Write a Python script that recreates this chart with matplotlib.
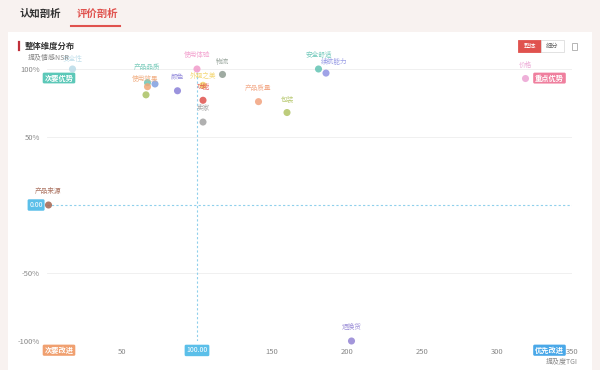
import matplotlib
matplotlib.use("Agg")
import matplotlib.pyplot as plt
from matplotlib.patches import Rectangle

plt.rcParams['font.family'] = ['Noto Sans CJK SC', 'DejaVu Sans']

# 维度数据: 提及度TGI (x), 提及情感NSR % (y)
names = ['安全性', '产品品质', '使用效果', '外观设计', '易用性', '颜色', '使用体验', '物流',
         '外观之美', '功能', '卖家', '产品质量', '包装', '安全舒适', '续航能力', '价格',
         '产品来源', '退换货']
tgi = [17, 67, 67, 66, 72, 87, 100, 117, 104, 104, 104, 141, 160, 181, 186, 319, 1, 203]
nsr = [100, 90, 87, 81, 89, 84, 100, 96, 88, 77, 61, 76, 68, 100, 97, 93, 0, -100]
colors = ['#b9dbe8', '#6cc6b4', '#f0a878', '#a9c163', '#7f9fe0', '#8a80d8', '#f29bcb', '#8e9c92',
          '#f3d366', '#e0524e', '#a3a3a3', '#f2a27e', '#b2c465', '#62c3b3', '#8f93e3', '#eba3d3',
          '#a2634f', '#9384d4']
# label offsets in points (dx, dy)
offsets = [(0, 4), (0, 8), (-2, 3), (0, 6), (0, 6), (0, 7), (0, 7), (0, 6),
           (0, 4), (0, 7), (0, 7), (0, 7), (0, 7), (0, 7), (6, 5), (0, 7),
           (0, 7), (0, 7)]
show_label = [True, True, True, False, False, True, True, True,
              True, True, True, True, True, True, True, True,
              True, True]

x_ticks = [50, 150, 200, 250, 300, 350]
y_ticks = [-100, -50, 50, 100]
y_tick_labels = ['-100%', '-50%', '50%', '100%']
ref_x = 100
ref_y = 0

fig = plt.figure(figsize=(6, 3.7), dpi=100)
fig.patch.set_facecolor('#f8f2f0')

W, H = 600, 370
def fx(px):
    return px / W
def fy(py):
    return 1 - py / H

# white card
fig.patches.append(Rectangle((fx(8), 0), fx(584), fy(32), transform=fig.transFigure,
                             facecolor='white', edgecolor='none', zorder=-5))

# tabs
fig.text(fx(20), fy(14), '认知剖析', fontsize=7.5, color='#333333', va='center', fontweight='bold')
fig.text(fx(77), fy(14), '评价剖析', fontsize=7.5, color='#e0524e', va='center', fontweight='bold')
fig.add_artist(plt.Line2D([fx(71), fx(120)], [fy(26), fy(26)], color='#e0524e', lw=1.5,
                          transform=fig.transFigure))

# title
fig.add_artist(plt.Line2D([fx(19), fx(19)], [fy(42), fy(50)], color='#c0303a', lw=1.6,
                          transform=fig.transFigure))
fig.text(fx(25), fy(46), '整体维度分布', fontsize=6, color='#333333', va='center', fontweight='bold')

# buttons
fig.patches.append(Rectangle((fx(518), fy(52)), fx(23), 12 / H, transform=fig.transFigure,
                             facecolor='#e0524e', edgecolor='#e0524e', lw=0.6))
fig.text(fx(529.5), fy(46), '整体', fontsize=4.5, color='white', ha='center', va='center')
fig.patches.append(Rectangle((fx(541), fy(52)), fx(23), 12 / H, transform=fig.transFigure,
                             facecolor='white', edgecolor='#dddddd', lw=0.6))
fig.text(fx(552.5), fy(46), '细分', fontsize=4.5, color='#666666', ha='center', va='center')
fig.patches.append(Rectangle((fx(572), fy(50)), fx(5), 7 / H, transform=fig.transFigure,
                             facecolor='white', edgecolor='#aaaaaa', lw=0.6))

ax = fig.add_axes([fx(47), fy(341), fx(525), 272 / H])
ax.set_facecolor('none')
ax.set_xlim(0, 350)
ax.set_ylim(-100, 100)
for s in ax.spines.values():
    s.set_visible(False)
ax.tick_params(length=0, labelsize=5.5, labelcolor='#888888', pad=5)
ax.set_xticks(x_ticks)
ax.set_yticks(y_ticks)
ax.set_yticklabels(y_tick_labels)
for t in y_ticks:
    ax.axhline(t, color='#eeeeee', lw=0.6, zorder=0)

ax.axhline(ref_y, color='#8fd0ec', lw=0.8, ls=(0, (2, 2)), zorder=1)
ax.axvline(ref_x, color='#8fd0ec', lw=0.8, ls=(0, (2, 2)), zorder=1)

ax.scatter(tgi, nsr, s=26, c=colors, alpha=0.85, edgecolors='none', zorder=3, clip_on=False)
for n, x, y, c, (dx, dy), sh in zip(names, tgi, nsr, colors, offsets, show_label):
    if not sh:
        continue
    ax.annotate(n, (x, y), xytext=(dx, dy), textcoords='offset points', ha='center', va='bottom',
                fontsize=4.8, color=c, alpha=0.9, zorder=4, annotation_clip=False)

box = dict(boxstyle='round,pad=0.25,rounding_size=0.2', edgecolor='none')
ax.text(ref_x, -104, '%.2f' % ref_x, ha='center', va='top', fontsize=5,
        color='white', bbox=dict(box, facecolor='#5bbfe9'), zorder=5, clip_on=False)
ax.annotate('%.2f' % ref_y, (0, ref_y), xytext=(-3, 0), textcoords='offset points', ha='right',
            va='center', fontsize=5, color='white', bbox=dict(box, facecolor='#5bbfe9'),
            zorder=5, annotation_clip=False)

# quadrant labels
quad = [('次要优势', 8, 96, '#5cc8b8'), ('重点优势', 335, 96, '#ef7f9e'),
        ('次要改进', 8, -104, '#f0a070'), ('优先改进', 335, -104, '#4aa8e8')]
for t, x, y, c in quad:
    ax.text(x, y, t, ha='center', va='top', fontsize=5.2, color='white', fontweight='bold',
            bbox=dict(box, facecolor=c), zorder=6, clip_on=False)

fig.text(fx(28), fy(58), '提及情感NSR', fontsize=5, color='#888888', va='center')
fig.text(fx(578), fy(361), '提及度TGI', fontsize=5, color='#888888', va='center', ha='right')

fig.savefig('out.png', dpi=100, facecolor=fig.get_facecolor())
